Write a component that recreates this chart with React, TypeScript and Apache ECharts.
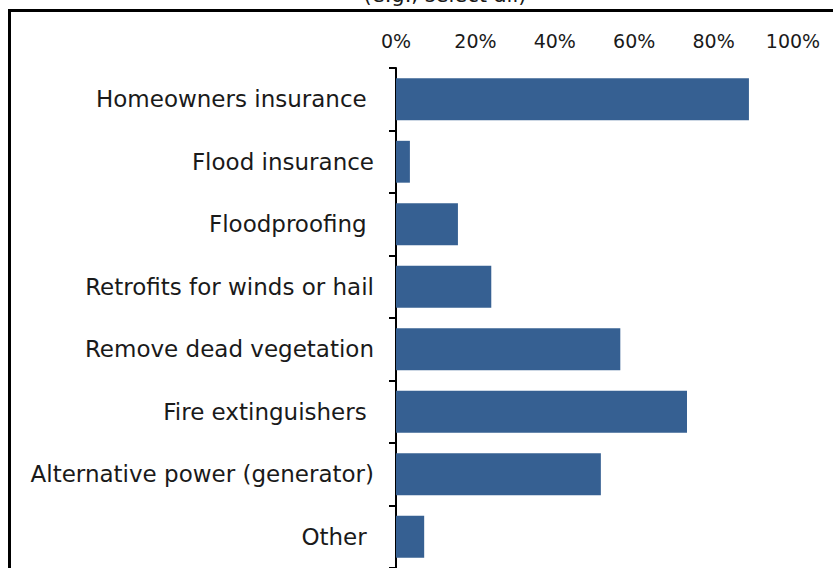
import React, { useEffect, useRef } from "react";
import * as echarts from "echarts";

const categories = [
  "Homeowners insurance ",
  "Flood insurance",
  "Floodproofing ",
  "Retrofits for winds or hail",
  "Remove dead vegetation",
  "Fire extinguishers ",
  "Alternative power (generator)",
  "Other ",
];
const values = [88.9, 3.5, 15.6, 24.0, 56.5, 73.3, 51.6, 7.1];
const xTicks = [0, 20, 40, 60, 80, 100];
const titleText = "(e.g., select all)";

export default function App() {
  const ref = useRef<HTMLDivElement>(null);
  useEffect(() => {
    document.body.style.margin = "0";
    const chart = echarts.init(ref.current!, null, { renderer: "svg" });
    const font = "DejaVu Sans";
    chart.setOption({
      animation: false,
      backgroundColor: "#ffffff",
      textStyle: { fontFamily: font },
      graphic: [
        {
          type: "rect",
          shape: { x: 9.5, y: 10.5, width: 900, height: 700 },
          style: { fill: "none", stroke: "#000", lineWidth: 3 },
          z: 0,
        },
        {
          type: "text",
          x: 445,
          y: -16,
          style: {
            text: titleText,
            fontFamily: font,
            fontSize: 21,
            fill: "#1a1a1a",
            textAlign: "center",
            textVerticalAlign: "top",
          },
        },
      ],
      grid: { left: 396, top: 68, width: 397, height: 504, containLabel: false },
      xAxis: {
        type: "value",
        position: "top",
        min: 0,
        max: 100,
        interval: 20,
        axisLine: { show: false },
        axisTick: { show: false },
        splitLine: { show: false },
        axisLabel: {
          margin: 18,
          fontSize: 19,
          color: "#1a1a1a",
          fontFamily: font,
          formatter: (v: number) => (xTicks.includes(v) ? v + "%" : ""),
        },
      },
      yAxis: {
        type: "category",
        inverse: true,
        data: categories,
        axisLine: { show: true, lineStyle: { color: "#000", width: 2 } },
        axisTick: { show: true, length: 7, lineStyle: { color: "#000", width: 2 } },
        axisLabel: { margin: 22, fontSize: 23, color: "#1a1a1a", fontFamily: font },
      },
      series: [
        {
          type: "bar",
          data: values,
          barCategoryGap: "33%",
          itemStyle: { color: "#366092" },
        },
      ],
    });
    return () => chart.dispose();
  }, []);
  return (
    <div
      ref={ref}
      style={{ position: "fixed", left: 0, top: 0, width: 833, height: 568 }}
    />
  );
}
